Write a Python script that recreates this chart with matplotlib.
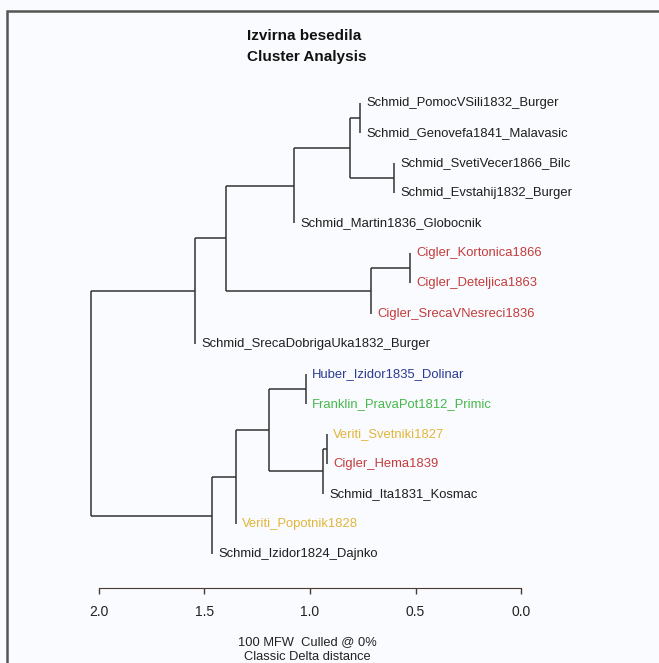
import matplotlib.pyplot as plt
from matplotlib.patches import Rectangle

plt.rcParams['font.family'] = ['Liberation Sans', 'DejaVu Sans']

# leaves, top to bottom
leaves = [
    'Schmid_PomocVSili1832_Burger',
    'Schmid_Genovefa1841_Malavasic',
    'Schmid_SvetiVecer1866_Bilc',
    'Schmid_Evstahij1832_Burger',
    'Schmid_Martin1836_Globocnik',
    'Cigler_Kortonica1866',
    'Cigler_Deteljica1863',
    'Cigler_SrecaVNesreci1836',
    'Schmid_SrecaDobrigaUka1832_Burger',
    'Huber_Izidor1835_Dolinar',
    'Franklin_PravaPot1812_Primic',
    'Veriti_Svetniki1827',
    'Cigler_Hema1839',
    'Schmid_Ita1831_Kosmac',
    'Veriti_Popotnik1828',
    'Schmid_Izidor1824_Dajnko',
]
leaf_colors = [
    'black', 'black', 'black', 'black', 'black',
    'red', 'red', 'red', 'black',
    'blue', 'green', 'gold', 'red', 'black', 'gold', 'black',
]
palette = {'black': '#1e1e1e', 'red': '#c43c3c', 'blue': '#2b3a92',
           'green': '#46b84a', 'gold': '#e2b63c'}

# merges, R style: negative = leaf (1-based), positive = earlier merge
merge_a = [-6, -3, 1, -1, 4, -12, 6, -10, 5, 8, 10, 9, 11, 12, 14]
merge_b = [-7, -4, -8, -2, 2, -13, -14, -11, -5, 7, -15, 3, -16, -9, 13]
heights = [0.526, 0.600, 0.711, 0.763, 0.810, 0.921, 0.940, 1.019,
           1.074, 1.193, 1.352, 1.400, 1.466, 1.545, 2.038]

ticks = [2.0, 1.5, 1.0, 0.5, 0.0]

fig = plt.figure(figsize=(6.59, 6.63), dpi=100, facecolor='#fafbfe')
ax = fig.add_axes([0, 0, 1, 1])
ax.set_facecolor('#fafbfe')
ax.set_xlim(521 / 211, (521 - 659) / 211)
ax.set_ylim(18.62, -3.425)

line_kw = dict(color='#333333', lw=1.1, solid_capstyle='butt')
ypos = {}


def child_y(c):
    return -c - 1 if c < 0 else ypos[c]


for k, (a, b, h) in enumerate(zip(merge_a, merge_b, heights), start=1):
    ya, yb = child_y(a), child_y(b)
    ax.plot([h, h], [ya, yb], **line_kw)
    for c in (a, b):
        if c > 0:
            ax.plot([h, heights[c - 1]], [ypos[c], ypos[c]], **line_kw)
        else:
            i = -c - 1
            ax.text(h - 0.03, i, leaves[i], ha='left', va='center',
                    fontsize=9.4, color=palette[leaf_colors[i]])
    ypos[k] = (ya + yb) / 2

# axis
for s in ['top', 'left', 'right']:
    ax.spines[s].set_visible(False)
ax.spines['bottom'].set_position(('data', 16.13))
ax.spines['bottom'].set_bounds(0, 2)
ax.spines['bottom'].set_color('#4a3a34')
ax.set_xticks(ticks)
ax.set_xticklabels([f'{t:.1f}' for t in ticks])
ax.tick_params(axis='x', direction='out', length=4.5, width=1, colors='#4a3a34',
               labelcolor='#222222', labelsize=10, pad=8)
ax.set_yticks([])

fig.text(304 / 659, 1 - 36 / 663, 'Izvirna besedila', ha='center', va='center',
         fontsize=11, fontweight='bold', color='#111111')
fig.text(307 / 659, 1 - 57 / 663, 'Cluster Analysis', ha='center', va='center',
         fontsize=11, fontweight='bold', color='#111111')
fig.text(307 / 659, 1 - 642 / 663, '100 MFW  Culled @ 0%', ha='center', va='center',
         fontsize=9.3, color='#222222')
fig.text(307 / 659, 1 - 657 / 663, 'Classic Delta distance', ha='center', va='center',
         fontsize=9.3, color='#222222')

fig.add_artist(Rectangle((6.5 / 659, -0.1), 1.1, 1.1 - 11 / 663,
                         transform=fig.transFigure, fill=False,
                         edgecolor='#555555', lw=1.8))

fig.savefig('out.png', dpi=100, facecolor=fig.get_facecolor())
